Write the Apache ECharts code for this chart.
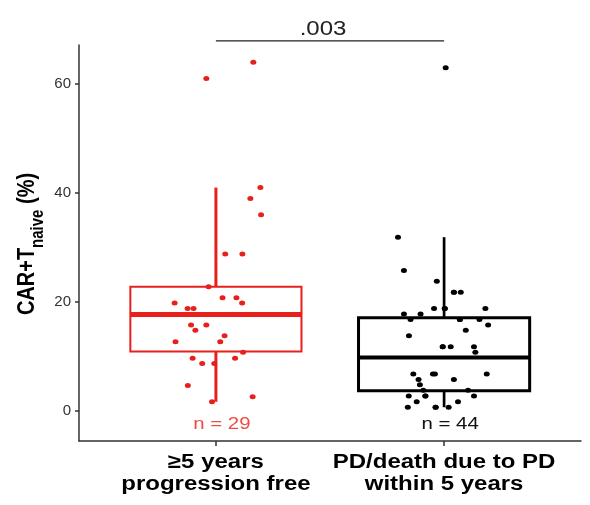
<!DOCTYPE html>
<html>
<head>
<meta charset="utf-8">
<script src="https://cdn.jsdelivr.net/npm/echarts@6/dist/echarts.min.js"></script>
<style>
  html, body { margin: 0; padding: 0; background: #fff; }
  #chart { width: 590px; height: 505px; }
</style>
</head>
<body>
<div id="chart"></div>
<script>
// Group labels and positions on the x scale
const groups = ['≥5 years\nprogression free', 'PD/death due to PD\nwithin 5 years'];
const groupPos = [1, 2];
const countLabels = ['n = 29', 'n = 44'];
const colors = ['#E8201C', '#000000'];
const countColors = ['#EE4B45', '#111111'];

// Box statistics: [whisker low, Q1, median, Q3, whisker high]
const boxPFS = [1.7, 10.9, 17.7, 22.8, 41];
const boxPD = [0.7, 3.7, 9.8, 17.1, 31.9];

// Individual patients (value, horizontal jitter around the group position)
const pfsValues = [64, 61, 41, 39, 36, 28.8, 28.8, 22.8, 20.8, 20.8, 19.8, 19.8, 18.8, 18.8,
  17.7, 15.8, 15.8, 14.8, 13.8, 12.7, 12.7, 10.8, 9.7, 9.7, 8.7, 8.7, 4.7, 2.6, 1.7];
const pfsJitter = [0.164, -0.042, 0.195, 0.151, 0.198, 0.041, 0.116, -0.032, 0.029, 0.090, 0.115, -0.181, -0.124, -0.098,
  0.0, -0.109, -0.042, -0.090, 0.038, -0.177, 0.019, 0.119, -0.102, 0.084, -0.060, -0.007, -0.123, 0.161, -0.017];

const pdValues = [63, 31.9, 25.8, 23.8, 21.8, 21.8, 21.8, 18.8, 18.8, 18.8, 18.8, 17.8, 17.8, 16.8, 16.8, 16.8, 16.8,
  15.8, 14.8, 13.8, 11.8, 11.8, 11.8, 11.8, 10.8,
  6.8, 6.8, 6.8, 6.8, 5.8, 5.8, 4.8, 3.8, 3.8, 2.75, 2.75, 2.75, 2.75, 1.7, 1.7, 0.7, 0.7, 0.7, 0.7];
const pdJitter = [0.007, -0.202, -0.176, -0.032, 0.043, 0.043, 0.073, -0.044, 0.003, 0.003, 0.181, -0.176, -0.103, -0.147, 0.069, 0.069, 0.155,
  0.193, 0.095, -0.154, -0.006, -0.006, 0.029, 0.131, 0.137,
  -0.135, -0.049, -0.040, 0.187, -0.112, 0.043, -0.106, -0.091, 0.105, -0.155, -0.082, -0.082, 0.131, -0.120, 0.061, -0.159, -0.037, -0.037, 0.020];

// Comparison bracket
const pValue = '.003';
const bracketY = 67.9;

const yTicks = [0, 20, 40, 60];
const yMin = -5.5, yMax = 67.16;

const FONT = '"Liberation Sans", Arial, Helvetica, sans-serif';
const STRETCH = 1.2; // labels are set slightly wide

function points(values, jitter, pos) {
  return values.map((v, i) => [pos + jitter[i], v]);
}

const boxStyles = [
  { box: 2, median: 5, whisker: 3 },
  { box: 3, median: 4, whisker: 2.7 }
];

function renderBox(params, api) {
  const gi = params.dataIndex;
  const pos = api.value(0);
  const lo = api.value(1), q1 = api.value(2), med = api.value(3), q3 = api.value(4), hi = api.value(5);
  const half = 0.375;
  const st = boxStyles[gi];
  const c = colors[gi];
  const tl = api.coord([pos - half, q3]);
  const br = api.coord([pos + half, q1]);
  const mL = api.coord([pos - half, med]);
  const mR = api.coord([pos + half, med]);
  const top = api.coord([pos, hi]);
  const q3p = api.coord([pos, q3]);
  const q1p = api.coord([pos, q1]);
  const bot = api.coord([pos, lo]);
  return {
    type: 'group',
    children: [
      { type: 'line', shape: { x1: top[0], y1: top[1], x2: q3p[0], y2: q3p[1] }, style: { stroke: c, lineWidth: st.whisker } },
      { type: 'line', shape: { x1: q1p[0], y1: q1p[1], x2: bot[0], y2: bot[1] }, style: { stroke: c, lineWidth: st.whisker } },
      { type: 'rect', shape: { x: tl[0], y: tl[1], width: br[0] - tl[0], height: br[1] - tl[1] }, style: { fill: 'none', stroke: c, lineWidth: st.box } },
      { type: 'line', shape: { x1: mL[0], y1: mL[1], x2: mR[0], y2: mR[1] }, style: { stroke: c, lineWidth: st.median } }
    ]
  };
}

function renderCount(params, api) {
  const gi = params.dataIndex;
  const p = api.coord([api.value(0), api.value(1)]);
  return {
    type: 'text',
    x: p[0] + 6, y: p[1], scaleX: STRETCH,
    style: { text: countLabels[gi], fill: countColors[gi], font: '17px ' + FONT, align: 'center', verticalAlign: 'middle' }
  };
}

function renderGroupLabel(params, api) {
  const gi = params.dataIndex;
  const p = api.coord([api.value(0), yMin]);
  return {
    type: 'text',
    x: p[0], y: p[1] + 32, scaleX: STRETCH,
    style: { text: groups[gi], fill: '#000', font: 'bold 20px ' + FONT, lineHeight: 22, align: 'center', verticalAlign: 'middle' }
  };
}

function renderBracket(params, api) {
  const a = api.coord([api.value(0), api.value(2)]);
  const b = api.coord([api.value(1), api.value(2)]);
  return {
    type: 'group',
    children: [
      { type: 'line', shape: { x1: a[0], y1: a[1], x2: b[0], y2: b[1] }, style: { stroke: '#222', lineWidth: 1.3 } },
      { type: 'text', x: (a[0] + b[0]) / 2 - 7, y: a[1] - 1, scaleX: STRETCH, style: { text: pValue, fill: '#222', font: '20px ' + FONT, align: 'center', verticalAlign: 'bottom' } }
    ]
  };
}

const chart = echarts.init(document.getElementById('chart'), null, { renderer: 'canvas' });

chart.setOption({
  animation: false,
  backgroundColor: '#fff',
  grid: { left: 79, right: 9, top: 45, bottom: 64, containLabel: false },
  graphic: [{
    type: 'text', x: 25, y: 244, rotation: Math.PI / 2, scaleY: STRETCH,
    style: {
      text: '{m|CAR+T}{s|naive}{m| (%)}',
      align: 'center', verticalAlign: 'middle',
      rich: {
        m: { font: 'bold 20px ' + FONT, fill: '#000', verticalAlign: 'bottom', lineHeight: 24 },
        s: { font: 'bold 15px ' + FONT, fill: '#000', verticalAlign: 'bottom', lineHeight: 18, padding: [0, 0, -6, 0] }
      }
    }
  }],
  xAxis: {
    type: 'value', min: 0.4, max: 2.6,
    splitLine: { show: false },
    axisLine: { show: true, onZero: false, lineStyle: { color: '#333', width: 1.5 } },
    axisTick: { show: true, customValues: groupPos, length: 5, lineStyle: { color: '#333', width: 1.5 } },
    axisLabel: { show: false }
  },
  yAxis: {
    type: 'value', min: yMin, max: yMax,
    splitLine: { show: false },
    axisLine: { show: true, onZero: false, lineStyle: { color: '#333', width: 1.5 } },
    axisTick: { show: true, customValues: yTicks, length: 4, lineStyle: { color: '#333', width: 1.5 } },
    axisLabel: { customValues: yTicks, color: '#333', fontFamily: FONT, fontSize: 15, margin: 8 }
  },
  series: [
    {
      type: 'scatter', z: 2, symbolSize: [6, 5],
      itemStyle: { color: colors[0], opacity: 1 },
      data: points(pfsValues, pfsJitter, groupPos[0])
    },
    {
      type: 'scatter', z: 2, symbolSize: [6, 5],
      itemStyle: { color: colors[1], opacity: 1 },
      data: points(pdValues, pdJitter, groupPos[1])
    },
    {
      type: 'custom', z: 3, renderItem: renderBox,
      data: [[groupPos[0]].concat(boxPFS), [groupPos[1]].concat(boxPD)]
    },
    {
      type: 'custom', z: 4, renderItem: renderCount, clip: false,
      data: [[groupPos[0], -2.4], [groupPos[1], -2.4]]
    },
    {
      type: 'custom', z: 4, renderItem: renderGroupLabel, clip: false,
      data: [[groupPos[0]], [groupPos[1]]]
    },
    {
      type: 'custom', z: 4, renderItem: renderBracket, clip: false,
      data: [[groupPos[0], groupPos[1], bracketY]]
    }
  ]
});
</script>
</body>
</html>
